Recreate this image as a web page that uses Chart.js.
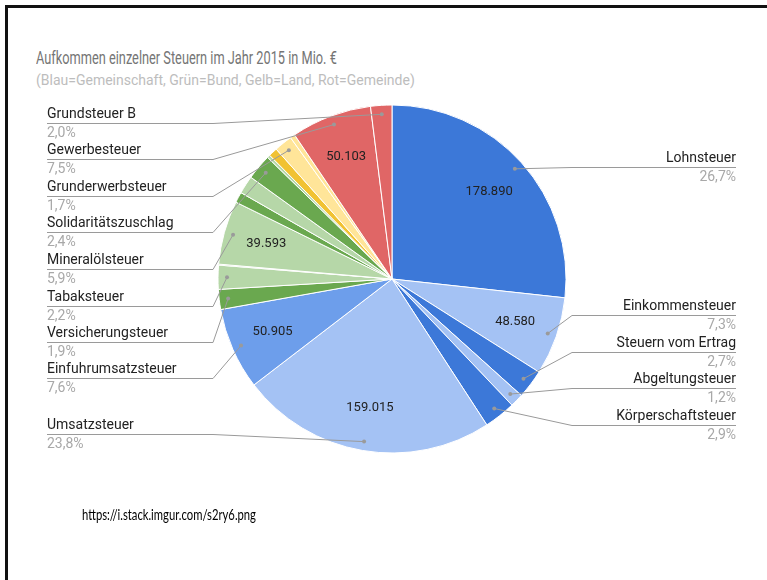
<!DOCTYPE html>
<html>
<head>
<meta charset="utf-8">
<script src="https://cdn.jsdelivr.net/npm/chart.js@4"></script>
<style>
  body { margin:0; width:767px; height:580px; overflow:hidden; background:#fff; position:relative; }
  #frame { position:absolute; left:5px; top:5px; width:800px; height:600px; border-top:3px solid #111; border-left:3px solid #111; }
  #title { position:absolute; left:36px; top:47px; font:18px Roboto, sans-serif; line-height:22px; color:#757575; white-space:nowrap; transform:scaleX(0.71); transform-origin:left center; }
  #sub { position:absolute; left:36px; top:72px; font:14px Roboto, sans-serif; line-height:16px; color:#bdbdbd; white-space:nowrap; }
  #url { position:absolute; left:82px; top:504px; font:15px Lato, sans-serif; line-height:20px; color:#000; white-space:nowrap; transform:scaleX(0.75); transform-origin:left center; }
  canvas { position:absolute; left:0; top:0; }
</style>
</head>
<body>
<div id="frame"></div>
<div id="title">Aufkommen einzelner Steuern im Jahr 2015 in Mio. €</div>
<div id="sub">(Blau=Gemeinschaft, Grün=Bund, Gelb=Land, Rot=Gemeinde)</div>
<canvas id="myChart" width="767" height="580"></canvas>
<div id="url">https://i.stack.imgur.com/s2ry6.png</div>
<script>
// slices clockwise from 12 o'clock, values in Mio. €
const taxes = ['Lohnsteuer', 'Einkommensteuer', 'Steuern vom Ertrag', 'Abgeltungsteuer', 'Körperschaftsteuer',
  'Umsatzsteuer', 'Einfuhrumsatzsteuer', 'Versicherungsteuer', 'Tabaksteuer', 'sonstige Bundessteuer 1',
  'Mineralölsteuer', 'sonstige Bundessteuer 2', 'sonstige Bundessteuer 3', 'Solidaritätszuschlag',
  'sonstige Bundessteuer 4', 'sonstige Landessteuer 1', 'Grunderwerbsteuer', 'sonstige Landessteuer 2',
  'Gewerbesteuer', 'Grundsteuer B'];
const revenue = [178890, 48580, 17945, 8259, 19583,
  159015, 50905, 12419, 14921, 600,
  39593, 6600, 11200, 15930,
  1800, 5500, 11249, 3000,
  50103, 13215];

// colours: blue = Gemeinschaft, green = Bund, yellow = Land, red = Gemeinde
const sliceColors = ['#3c78d8', '#a4c2f4', '#3c78d8', '#a4c2f4', '#3c78d8',
  '#a4c2f4', '#6d9eeb', '#6aa84f', '#b6d7a8', '#6aa84f',
  '#b6d7a8', '#6aa84f', '#b6d7a8', '#6aa84f',
  '#b6d7a8', '#f1c232', '#ffe599', '#ffe599',
  '#e06666', '#e06666'];

// label rows (text middle y) for the callouts
const leftRows = {'Grundsteuer B': 114, 'Gewerbesteuer': 150, 'Grunderwerbsteuer': 187, 'Solidaritätszuschlag': 223,
  'Mineralölsteuer': 260, 'Tabaksteuer': 297, 'Versicherungsteuer': 333, 'Einfuhrumsatzsteuer': 369, 'Umsatzsteuer': 425};
const rightRows = {'Lohnsteuer': 158, 'Einkommensteuer': 306, 'Steuern vom Ertrag': 343, 'Abgeltungsteuer': 379, 'Körperschaftsteuer': 416};

const fmt = n => n.toString().replace(/\B(?=(\d{3})+(?!\d))/g, '.');

const callouts = {
  id: 'callouts',
  afterDatasetsDraw(chart) {
    const ctx = chart.ctx;
    const meta = chart.getDatasetMeta(0);
    const total = revenue.reduce((a, b) => a + b, 0);
    ctx.save();
    meta.data.forEach((arc, i) => {
      const p = arc.getProps(['x', 'y', 'startAngle', 'endAngle', 'outerRadius'], true);
      const mid = (p.startAngle + p.endAngle) / 2;
      const share = revenue[i] / total;
      if (share >= 0.05) {
        const r = p.outerRadius * 0.75;
        ctx.font = '13px Roboto';
        ctx.fillStyle = '#222';
        ctx.textAlign = 'center';
        ctx.textBaseline = 'middle';
        ctx.fillText(fmt(revenue[i]), p.x + r * Math.cos(mid), p.y + r * Math.sin(mid));
      }
      const name = taxes[i];
      const left = name in leftRows;
      const rowY = left ? leftRows[name] : rightRows[name];
      if (rowY === undefined) return;
      const dr = p.outerRadius - 9;
      const dx = p.x + dr * Math.cos(mid), dy = p.y + dr * Math.sin(mid);
      const lineY = rowY + 9.5;
      const elbowX = left ? 213 : 572;
      const endX = left ? 47 : 736;
      ctx.strokeStyle = '#9a9a9a';
      ctx.lineWidth = 1;
      ctx.beginPath();
      ctx.moveTo(dx, dy);
      ctx.lineTo(elbowX, lineY);
      ctx.lineTo(endX, lineY);
      ctx.stroke();
      ctx.fillStyle = '#9a9a9a';
      ctx.beginPath();
      ctx.arc(dx, dy, 2, 0, Math.PI * 2);
      ctx.fill();
      ctx.textAlign = left ? 'left' : 'right';
      ctx.textBaseline = 'middle';
      ctx.font = '14px Roboto';
      ctx.fillStyle = '#222';
      ctx.fillText(name, endX, rowY);
      ctx.fillStyle = '#a8a8a8';
      ctx.fillText((share * 100).toFixed(1).replace('.', ',') + '%', endX, rowY + 19);
    });
    ctx.restore();
  }
};

new Chart(document.getElementById('myChart'), {
  type: 'pie',
  data: {
    labels: taxes,
    datasets: [{
      data: revenue,
      backgroundColor: sliceColors,
      borderColor: '#fff',
      borderWidth: 1
    }]
  },
  options: {
    responsive: false,
    animation: false,
    radius: 174,
    layout: { padding: { left: 217, right: 200, top: 104, bottom: 126 } },
    plugins: { legend: { display: false }, tooltip: { enabled: false } }
  },
  plugins: [callouts]
});
</script>
</body>
</html>
